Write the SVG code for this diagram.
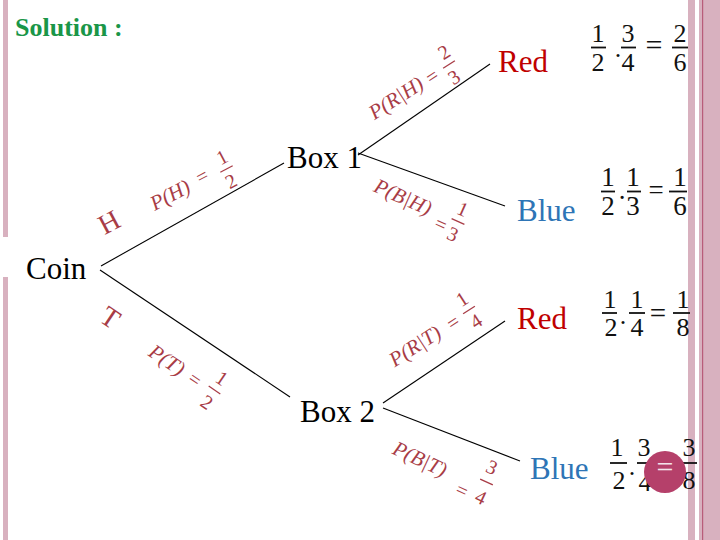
<svg xmlns="http://www.w3.org/2000/svg" width="720" height="540" viewBox="0 0 720 540">
<style>
.nd{font-family:"Liberation Serif","Times New Roman",serif;font-size:31px;fill:#000}
.red{fill:#c00000}
.blue{fill:#2e75b6}
.lb{font-family:"Liberation Serif","Times New Roman",serif;font-style:italic;font-size:21px;fill:#a83c46;text-anchor:middle;dominant-baseline:central}
.ld{font-family:"Liberation Serif","Times New Roman",serif;font-size:20px;fill:#a83c46;text-anchor:middle;dominant-baseline:central}
.lbar{stroke:#a83c46;stroke-width:1.3}
.big{font-family:"Liberation Serif","Times New Roman",serif;font-size:28px;fill:#a83c46;text-anchor:middle;dominant-baseline:central}
.ex{font-family:"Liberation Serif","Times New Roman",serif;fill:#111;text-anchor:middle;dominant-baseline:central}
.fb{stroke:#111;stroke-width:1.8}
.conn line{stroke:#000;stroke-width:1.1}
.pink{fill:#d8b1bf}
</style>
<rect width="720" height="540" fill="#fff"/>
<g id="border">
<rect class="pink" x="3" y="0" width="5" height="237"/>
<rect class="pink" x="3" y="277" width="5" height="263"/>
<rect class="pink" x="688" y="0" width="7" height="540"/>
<rect class="pink" x="699" y="0" width="21" height="540"/>
<rect x="702" y="0" width="1.2" height="540" fill="#b85d7a"/>
</g>
<text id="title" x="15" y="36" font-family="Liberation Serif,Times New Roman,serif" font-weight="bold" font-size="26" fill="#1a9648">Solution :</text>
<g id="connectors" class="conn">
<line x1="101" y1="266" x2="284" y2="163"/>
<line x1="100" y1="270" x2="290" y2="397"/>
<line x1="358" y1="155" x2="490" y2="64"/>
<line x1="358" y1="153" x2="505" y2="206"/>
<line x1="383" y1="403" x2="505" y2="321"/>
<line x1="383" y1="408" x2="520" y2="461"/>
</g>
<g id="coin"><text class="nd" x="26" y="279">Coin</text></g>
<g id="box1"><text class="nd" x="287" y="168">Box 1</text></g>
<g id="box2"><text class="nd" x="300" y="422">Box 2</text></g>
<g id="red1"><text class="nd red" x="498" y="72">Red</text></g>
<g id="blue1"><text class="nd blue" x="517" y="221">Blue</text></g>
<g id="red2"><text class="nd red" x="517" y="329">Red</text></g>
<g id="blue2"><text class="nd blue" x="530" y="479">Blue</text></g>
<g id="labels">
<text class="big" transform="translate(109,222) rotate(-28)">H</text>
<text class="big" transform="translate(110.5,317.5) rotate(34)">T</text>
<g id="pH">
<text class="lb" transform="translate(170,195) rotate(-28)">P(H)</text>
<text class="ld" transform="translate(202,176) rotate(-28)">=</text>
<text class="ld" transform="translate(222,157) rotate(-28)">1</text>
<text class="ld" transform="translate(231,181) rotate(-28)">2</text>
<line class="lbar" x1="-7" y1="0" x2="7" y2="0" transform="translate(226.5,169) rotate(-28)"/>
</g>
<g id="pT">
<text class="lb" transform="translate(167,360) rotate(34)">P(T)</text>
<text class="ld" transform="translate(195,379) rotate(34)">=</text>
<text class="ld" transform="translate(222,378) rotate(34)">1</text>
<text class="ld" transform="translate(207,402) rotate(34)">2</text>
<line class="lbar" x1="-7" y1="0" x2="7" y2="0" transform="translate(214.5,390) rotate(34)"/>
</g>
<g id="pRH">
<text class="lb" transform="translate(396,98) rotate(-33)">P(R|H)</text>
<text class="ld" transform="translate(432,76) rotate(-33)">=</text>
<text class="ld" transform="translate(444,52) rotate(-33)">2</text>
<text class="ld" transform="translate(454,77) rotate(-33)">3</text>
<line class="lbar" x1="-7" y1="0" x2="7" y2="0" transform="translate(449,64.5) rotate(-33)"/>
</g>
<g id="pBH">
<text class="lb" transform="translate(403,197) rotate(24)">P(B|H)</text>
<text class="ld" transform="translate(441,224) rotate(24)">=</text>
<text class="ld" transform="translate(463,209) rotate(24)">1</text>
<text class="ld" transform="translate(453,234) rotate(24)">3</text>
<line class="lbar" x1="-7" y1="0" x2="7" y2="0" transform="translate(458,221.5) rotate(24)"/>
</g>
<g id="pRT">
<text class="lb" transform="translate(415,346) rotate(-33)">P(R|T)</text>
<text class="ld" transform="translate(453,322) rotate(-33)">=</text>
<text class="ld" transform="translate(462,299) rotate(-33)">1</text>
<text class="ld" transform="translate(476,321) rotate(-33)">4</text>
<line class="lbar" x1="-7" y1="0" x2="7" y2="0" transform="translate(469,310) rotate(-33)"/>
</g>
<g id="pBT">
<text class="lb" transform="translate(420,459) rotate(25)">P(B|T)</text>
<text class="ld" transform="translate(462,490) rotate(25)">=</text>
<text class="ld" transform="translate(492,467) rotate(25)">3</text>
<text class="ld" transform="translate(481,497) rotate(25)">4</text>
<line class="lbar" x1="-7" y1="0" x2="7" y2="0" transform="translate(486.5,482) rotate(25)"/>
</g>
</g>
<g id="expr1" class="ex" font-size="26">
<text x="598" y="33">1</text><text x="598" y="62">2</text>
<line class="fb" x1="591" y1="47.5" x2="606" y2="47.5"/>
<text x="618" y="57" dominant-baseline="auto">.</text>
<text x="628" y="33">3</text><text x="628" y="62">4</text>
<line class="fb" x1="621" y1="47.5" x2="636" y2="47.5"/>
<text x="654" y="44.5" font-size="30">=</text>
<text x="680" y="33">2</text><text x="680" y="62">6</text>
<line class="fb" x1="672" y1="47.5" x2="688" y2="47.5"/>
</g>
<g id="expr2" class="ex" font-size="27">
<text x="608" y="177">1</text><text x="608" y="206">2</text>
<line class="fb" x1="601" y1="191.5" x2="615" y2="191.5"/>
<text x="622" y="199" dominant-baseline="auto">.</text>
<text x="633" y="177">1</text><text x="633" y="206">3</text>
<line class="fb" x1="627" y1="191.5" x2="641" y2="191.5"/>
<text x="656" y="189.5">=</text>
<text x="680" y="177">1</text><text x="680" y="206">6</text>
<line class="fb" x1="669" y1="191.5" x2="687" y2="191.5"/>
</g>
<g id="expr3" class="ex" font-size="26">
<text x="610" y="299">1</text><text x="611" y="327">2</text>
<line class="fb" x1="602" y1="313" x2="617" y2="313"/>
<text x="623" y="324" dominant-baseline="auto">.</text>
<text x="637" y="299">1</text><text x="637" y="327">4</text>
<line class="fb" x1="629" y1="313" x2="645" y2="313"/>
<text x="658" y="312.5" font-size="29">=</text>
<text x="683" y="299">1</text><text x="683" y="327">8</text>
<line class="fb" x1="673" y1="313" x2="690" y2="313"/>
</g>
<g id="expr4" class="ex" font-size="26">
<text x="617" y="447">1</text><text x="619" y="480">2</text>
<line class="fb" x1="610" y1="463" x2="627" y2="463"/>
<text x="632" y="475" dominant-baseline="auto">.</text>
<text x="644" y="447">3</text><text x="645" y="482">4</text>
<line class="fb" x1="637" y1="463" x2="652" y2="463"/>
<text x="689" y="447">3</text><text x="689" y="480">8</text>
<line class="fb" x1="682" y1="463" x2="697" y2="463"/>
<circle cx="665" cy="472" r="21" fill="#b5406a"/>
<text x="665" y="466" font-size="30" fill="#f3e3ea">=</text>
</g>
</svg>
